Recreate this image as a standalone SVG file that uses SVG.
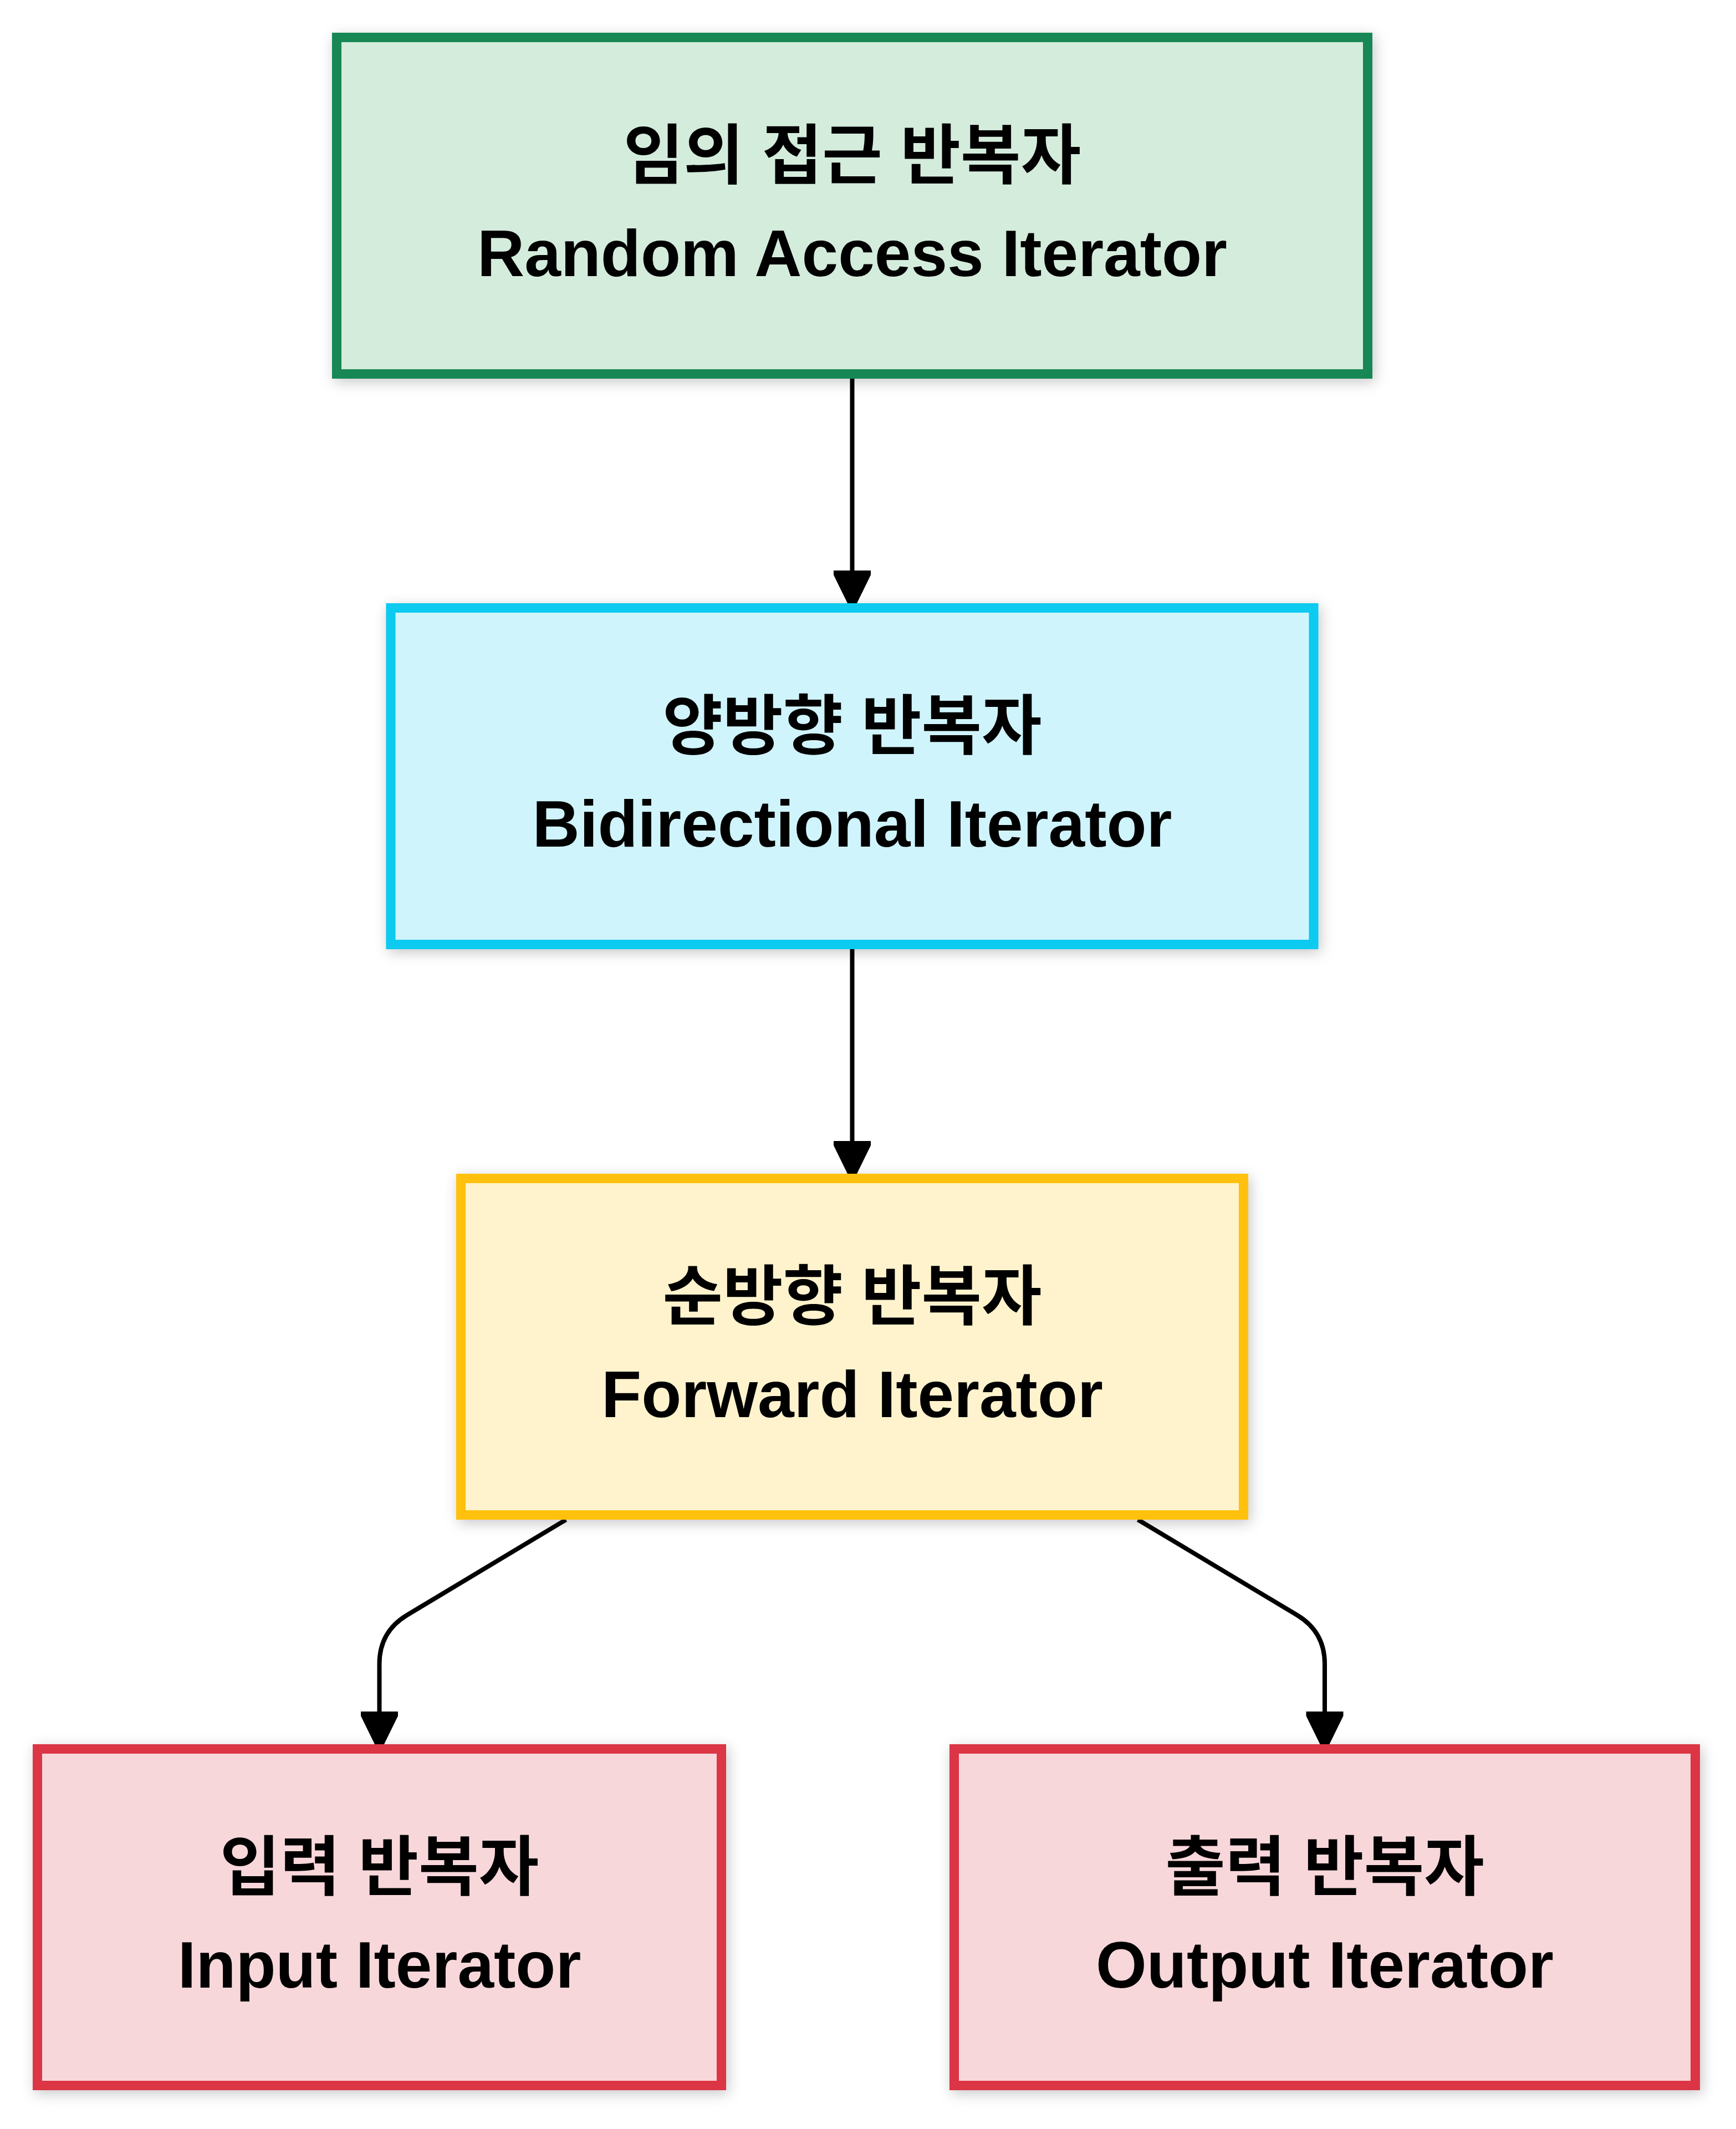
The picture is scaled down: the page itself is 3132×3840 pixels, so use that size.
<svg xmlns="http://www.w3.org/2000/svg" width="3132" height="3840" viewBox="0 0 3132 3840">
<style>
  .node rect { stroke-width: 17; filter: url(#shadow); }
  .lbl { font-family: "Liberation Sans", Arial, "Noto Sans CJK KR", sans-serif; font-weight: bold; font-size: 118px; fill: #000; text-anchor: middle; }
  .green rect { fill: #d4ecdc; stroke: #198754; }
  .cyan rect { fill: #cff4fc; stroke: #0dcaf0; }
  .yellow rect { fill: #fff3cd; stroke: #ffc107; }
  .red rect { fill: #f8d7da; stroke: #dc3545; }
  .edge { fill: none; stroke: #000; stroke-width: 8; }
  .head { fill: #000; }
</style>
<defs>
  <filter id="shadow" x="-10%" y="-20%" width="120%" height="140%">
    <feDropShadow dx="4" dy="6" stdDeviation="12" flood-color="#000" flood-opacity="0.22"/>
  </filter>
</defs>
<rect x="0" y="0" width="3132" height="3840" fill="#ffffff"/>

<g id="edges">
  <path class="edge" d="M1537.5 683 L1537.5 1032"/>
  <polygon class="head" points="1504,1029 1571,1029 1571,1037 1546,1088 1529,1088 1504,1037"/>
  <path class="edge" d="M1537.5 1712 L1537.5 2061"/>
  <polygon class="head" points="1504,2058 1571,2058 1571,2066 1546,2117 1529,2117 1504,2066"/>
  <path class="edge" d="M1021 2741 L734.5 2913 Q684.5 2943 684.5 3001 L684.5 3090"/>
  <polygon class="head" points="651,3087 718,3087 718,3095 693,3146 676,3146 651,3095"/>
  <path class="edge" d="M2053 2741 L2340 2913 Q2390 2943 2390 3001 L2390 3090"/>
  <polygon class="head" points="2356.5,3087 2423.5,3087 2423.5,3095 2398.5,3146 2381.5,3146 2356.5,3095"/>
</g>

<g id="node-random" class="node green">
  <rect x="607.5" y="67.5" width="1860" height="607"/>
  <text class="lbl" x="1537.5" y="322">임의 접근 반복자</text>
  <text class="lbl" x="1537.5" y="498">Random Access Iterator</text>
</g>

<g id="node-bidir" class="node cyan">
  <rect x="705" y="1096.5" width="1665" height="607"/>
  <text class="lbl" x="1537.5" y="1351">양방향 반복자</text>
  <text class="lbl" x="1537.5" y="1527">Bidirectional Iterator</text>
</g>

<g id="node-forward" class="node yellow">
  <rect x="831.5" y="2125.5" width="1412" height="607"/>
  <text class="lbl" x="1537.5" y="2380">순방향 반복자</text>
  <text class="lbl" x="1537.5" y="2556">Forward Iterator</text>
</g>

<g id="node-input" class="node red">
  <rect x="67.5" y="3154.5" width="1234" height="607"/>
  <text class="lbl" x="684.5" y="3409">입력 반복자</text>
  <text class="lbl" x="684.5" y="3585">Input Iterator</text>
</g>

<g id="node-output" class="node red">
  <rect x="1721.5" y="3154.5" width="1337" height="607"/>
  <text class="lbl" x="2390" y="3409">출력 반복자</text>
  <text class="lbl" x="2390" y="3585">Output Iterator</text>
</g>
</svg>
